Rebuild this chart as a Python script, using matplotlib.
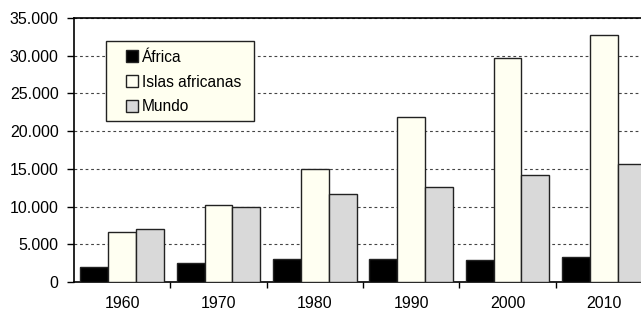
import matplotlib.pyplot as plt
import numpy as np
from matplotlib.lines import Line2D
from matplotlib.patches import Rectangle
from matplotlib.ticker import FuncFormatter

plt.rcParams['font.family'] = ['Liberation Sans', 'DejaVu Sans']

years = ['1960', '1970', '1980', '1990', '2000', '2010']
africa = [2000, 2500, 3050, 3050, 2900, 3350]
islas = [6650, 10150, 15000, 21850, 29700, 32700]
mundo = [7000, 10000, 11650, 12600, 14150, 15700]
series = ['África', 'Islas africanas', 'Mundo']
colors = ['#000000', '#FFFFF2', '#D9D9D9']

W, H = 641, 310
fig = plt.figure(figsize=(W / 100, H / 100), dpi=100)
ax = fig.add_axes([74 / W, 28 / H, (652 - 74) / W, (282 - 18) / H])

x = np.arange(len(years))
bw = 0.29
for i, (vals, c) in enumerate(zip([africa, islas, mundo], colors)):
    ax.bar(x + (i - 1) * bw, vals, bw, color=c, edgecolor='#222222', linewidth=1.0, zorder=3)

ax.set_xlim(-0.5, len(years) - 0.5)
ax.set_ylim(0, 35000)
ax.set_yticks(np.arange(0, 35001, 5000))
ax.yaxis.set_major_formatter(FuncFormatter(lambda v, p: f'{int(v):,}'.replace(',', '.')))
ax.yaxis.grid(True, linestyle=(0, (2.5, 2.5)), color='#444444', linewidth=0.8, zorder=0)

ax.set_xticks(np.arange(0.5, len(years) - 0.5, 1))
ax.set_xticklabels([])
ax.set_xticks(x, minor=True)
ax.set_xticklabels(years, minor=True)
ax.tick_params(axis='x', which='minor', length=0, pad=10, labelsize=11.5)
ax.tick_params(axis='x', which='major', length=4, width=1, direction='out')
ax.tick_params(axis='y', length=5, width=1, direction='out', pad=6, labelsize=11.5)

for s in ['left', 'top', 'bottom']:
    ax.spines[s].set_linewidth(1.2)
ax.spines['right'].set_visible(False)

# legend box
fig.patches.append(Rectangle((106 / W, 1 - 121 / H), (254 - 106) / W, (121 - 41) / H,
                             transform=fig.transFigure, facecolor='#FFFFF0',
                             edgecolor='#222222', linewidth=1.0, zorder=5))
handles = [Line2D([], [], marker='s', linestyle='none', markersize=8,
                  markerfacecolor=c, markeredgecolor='#222222', markeredgewidth=1.0)
           for c in colors]
fig.legend(handles, series, loc='upper left', bbox_to_anchor=(113 / W, 1 - 39 / H),
           frameon=False, fontsize=11.2, handlelength=1.0, handletextpad=0.15,
           labelspacing=0.62, borderpad=0.2)

fig.savefig('out.png', dpi=100)
